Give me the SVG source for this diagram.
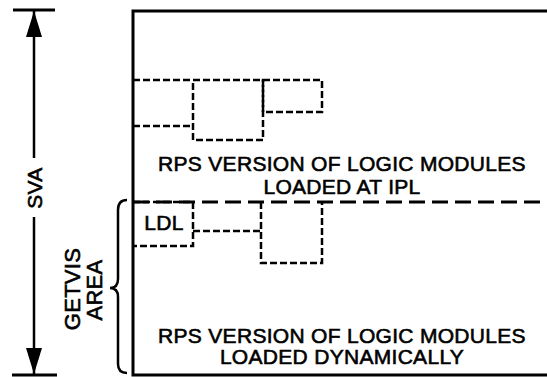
<svg xmlns="http://www.w3.org/2000/svg" width="547" height="377" viewBox="0 0 547 377">
<style>
.t{font-family:"Liberation Sans",Arial,sans-serif;font-size:21px;fill:#000;stroke:#000;stroke-width:0.6;letter-spacing:0.3px}
.solid{stroke:#000;stroke-width:3;fill:none}
.thin{stroke:#000;stroke-width:2.5;fill:none}
.dash{stroke:#000;stroke-width:2.5;fill:none;stroke-dasharray:7 3}
.ldash{stroke:#000;stroke-width:3;fill:none;stroke-dasharray:16 7}
</style>
<defs>
<marker id="arrow" viewBox="0 0 26 16" refX="26" refY="8" markerWidth="26" markerHeight="16" markerUnits="userSpaceOnUse" orient="auto">
<path d="M0,0 L26,8 L0,16 Z" fill="#000"/>
</marker>
</defs>
<rect width="547" height="377" fill="#fff"/>
<g id="frame">
<path class="solid" d="M547,11 H133 V375 H547"/>
</g>
<g id="sva">
<line class="solid" x1="13" y1="10" x2="55" y2="10"/>
<line class="solid" x1="12" y1="375" x2="57" y2="375"/>
<text class="t" transform="translate(42,188) rotate(-90)" text-anchor="middle">SVA</text>
</g>
<g id="getvis">
<path class="thin" d="M127,200 Q118,200 118,210 V279 Q118,288 110,288 Q118,288 118,297 V364 Q118,373 127,373"/>
<text class="t" transform="translate(80,289) rotate(-90)" text-anchor="middle" style="font-size:22px">GETVIS</text>
<text class="t" transform="translate(102,290) rotate(-90)" text-anchor="middle" style="font-size:22px">AREA</text>
</g>
<g id="ipl-modules">
<path class="dash" d="M133,80 H193 M133,126 H193"/>
<rect class="dash" x="193" y="80" width="70" height="60"/>
<rect class="dash" x="263" y="80" width="59" height="32"/>
<text class="t" x="342" y="171" text-anchor="middle">RPS VERSION OF LOGIC MODULES</text>
<text class="t" x="342" y="194" text-anchor="middle">LOADED AT IPL</text>
</g>
<g id="boundary">
<line class="ldash" x1="133" y1="202" x2="547" y2="202"/>
</g>
<g id="ldl">
<path class="dash" d="M133,202 H193 V246 H133"/>
<text class="t" x="164" y="230" text-anchor="middle">LDL</text>
</g>
<g id="dyn-modules">
<path class="dash" d="M193,231 H261"/>
<path class="dash" d="M261,202 V263 H322 V202"/>
<text class="t" x="342" y="343" text-anchor="middle">RPS VERSION OF LOGIC MODULES</text>
<text class="t" x="342" y="364" text-anchor="middle">LOADED DYNAMICALLY</text>
</g>
<g id="connectors">
<line class="thin" x1="34" y1="158" x2="34" y2="11" marker-end="url(#arrow)"/>
<line class="thin" x1="34" y1="217" x2="34" y2="374" marker-end="url(#arrow)"/>
</g>
</svg>
